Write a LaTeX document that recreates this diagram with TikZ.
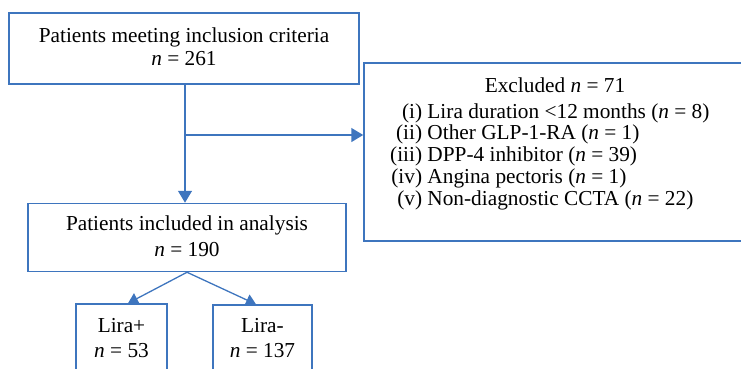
\documentclass[tikz,border=0pt]{standalone}
\usepackage{fontspec}
\setmainfont{Liberation Serif}
\usetikzlibrary{arrows.meta,calc}
\definecolor{flowblue}{RGB}{62,117,190}
\begin{document}
\begin{tikzpicture}[x=1pt,y=-1pt,
  box/.style={draw=flowblue,line width=1.5pt,rectangle,inner sep=0pt},
  txt/.style={inner sep=0pt,font=\fontsize{21.3}{24}\selectfont,align=center},
  arr/.style={draw=flowblue,line width=1.5pt,-{Triangle[width=14pt,length=12pt]}},
  sarr/.style={draw=flowblue,line width=1.3pt,-{Triangle[width=12pt,length=10pt]}}]
\useasboundingbox (0,0) rectangle (741,368);
% boxes
\node[box,minimum width=350,minimum height=71] (top) at (184,48.5) {};
\node[box,minimum width=318,minimum height=68] (incl) at (187,237.5) {};
\node[box,minimum width=382,minimum height=178] (excl) at (555,152) {};
\node[box,minimum width=91,minimum height=90] (lp) at (121.5,349) {};
\node[box,minimum width=99,minimum height=90] (lm) at (262.5,350) {};
% texts
\node[txt,anchor=base] (toptext1) at (184,42) {Patients meeting inclusion criteria};
\node[txt,anchor=base] (toptext2) at (184,65.7) {\textit{n} = 261};
\node[txt,anchor=base] (incltext1) at (187,230) {Patients included in analysis};
\node[txt,anchor=base] (incltext2) at (187,256) {\textit{n} = 190};
\node[txt,anchor=base] (exclhead) at (555,92) {Excluded \textit{n} = 71};
\node[inner sep=0pt,anchor=base west,font=\fontsize{21.3}{21.75}\selectfont] (excllist) at (390,118)
 {\begin{tabular}[t]{@{}r@{\ }l@{}}
 (i) & Lira duration {<}12 months (\textit{n} = 8)\\
 (ii) & Other GLP-1-RA (\textit{n} = 1)\\
 (iii) & DPP-4 inhibitor (\textit{n} = 39)\\
 (iv) & Angina pectoris (\textit{n} = 1)\\
 (v) & Non-diagnostic CCTA (\textit{n} = 22)
 \end{tabular}};
\node[txt,anchor=base] (lptext1) at (121.5,332) {Lira+};
\node[txt,anchor=base] (lptext2) at (121.5,357) {\textit{n} = 53};
\node[txt,anchor=base] (lmtext1) at (262.5,332) {Lira-};
\node[txt,anchor=base] (lmtext2) at (262.5,357) {\textit{n} = 137};
% connectors
\coordinate (topout) at ([xshift=1pt]top.south);
\coordinate (br) at (185,135);
\draw[arr] (topout) -- (topout |- incl.north);
\draw[arr] (br) -- (br -| excl.west);
\draw[sarr] (incl.south) -- ([xshift=6.5pt]lp.north);
\draw[sarr] (incl.south) -- ([xshift=-6.5pt]lm.north);
\end{tikzpicture}
\end{document}
